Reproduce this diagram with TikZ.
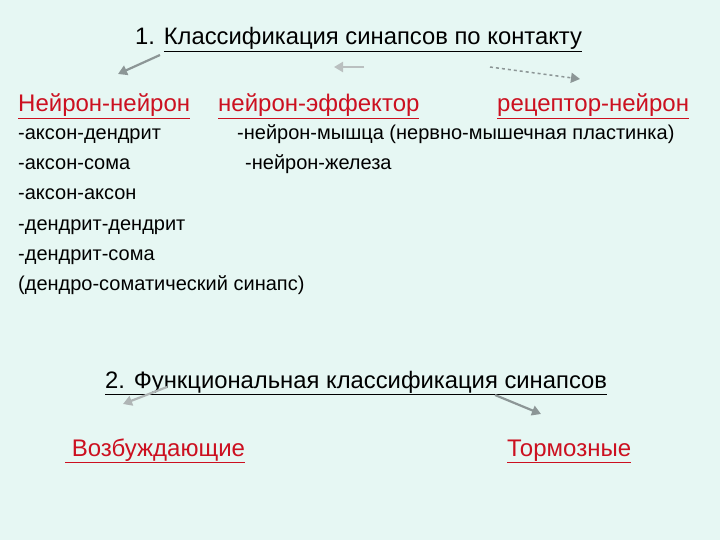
\documentclass[tikz,border=0pt]{standalone}
\usepackage{fontspec}
\setmainfont{Liberation Sans}
\usetikzlibrary{arrows.meta}
\definecolor{bg}{RGB}{230,247,243}
\definecolor{linkred}{RGB}{204,16,32}
\definecolor{arr}{RGB}{140,150,150}
\tikzset{
  txt/.style={anchor=base west, inner sep=0pt, font=\fontsize{20}{24}\selectfont},
  head/.style={anchor=base west, inner sep=0pt, font=\fontsize{23.8}{28}\selectfont},
  big/.style={anchor=base west, inner sep=0pt, font=\fontsize{24}{28}\selectfont, text=linkred},
  arrowline/.style={draw=arr, line width=2.2pt, -{Triangle[length=9pt,width=10pt]}},
}
\begin{document}
\begin{tikzpicture}[x=1pt,y=-1pt]
\fill[bg] (0,0) rectangle (720,540);
\useasboundingbox (0,0) rectangle (720,540);

\node[head] (t1) at (135,45) {1. \underline{Классификация синапсов по контакту}};

\node[big] (nn) at (18,112) {\underline{Нейрон-нейрон}};
\node[big] (ne) at (218,112) {\underline{нейрон-эффектор}};
\node[big] (rn) at (497,112) {\underline{рецептор-нейрон}};

\node[txt] (l1) at (18,140) {-аксон-дендрит};
\node[txt] (l2) at (18,170) {-аксон-сома};
\node[txt] (l3) at (18,200) {-аксон-аксон};
\node[txt] (l4) at (18,230) {-дендрит-дендрит};
\node[txt] (l5) at (18,260) {-дендрит-сома};
\node[txt] (l6) at (18,290) {(дендро-соматический синапс)};
\node[txt] (m1) at (237,140) {-нейрон-мышца (нервно-мышечная пластинка)};
\node[txt] (m2) at (245,170) {-нейрон-железа};

\node[head] (t2) at (105,388) {\underline{2. Функциональная классификация синапсов}};

\node[big] (vz) at (65,456) {\underline{ Возбуждающие}};
\node[big] (tm) at (507,456) {\underline{Тормозные}};

\coordinate (a1s) at (160,55); \coordinate (a1e) at (118,74);
\coordinate (a2s) at (364,67); \coordinate (a2e) at (334,67);
\coordinate (a3s) at (490,67); \coordinate (a3e) at (580,79);
\coordinate (a4s) at (167,387); \coordinate (a4e) at (123,404);
\coordinate (a5s) at (495,395); \coordinate (a5e) at (541,414);

\draw[arrowline] (a1s) -- (a1e);
\draw[arrowline, draw=arr!60] (a2s) -- (a2e);
\draw[arrowline, dashed, line width=1.5pt] (a3s) -- (a3e);
\draw[arrowline, draw=arr!70] (a4s) -- (a4e);
\draw[arrowline] (a5s) -- (a5e);
\end{tikzpicture}
\end{document}
